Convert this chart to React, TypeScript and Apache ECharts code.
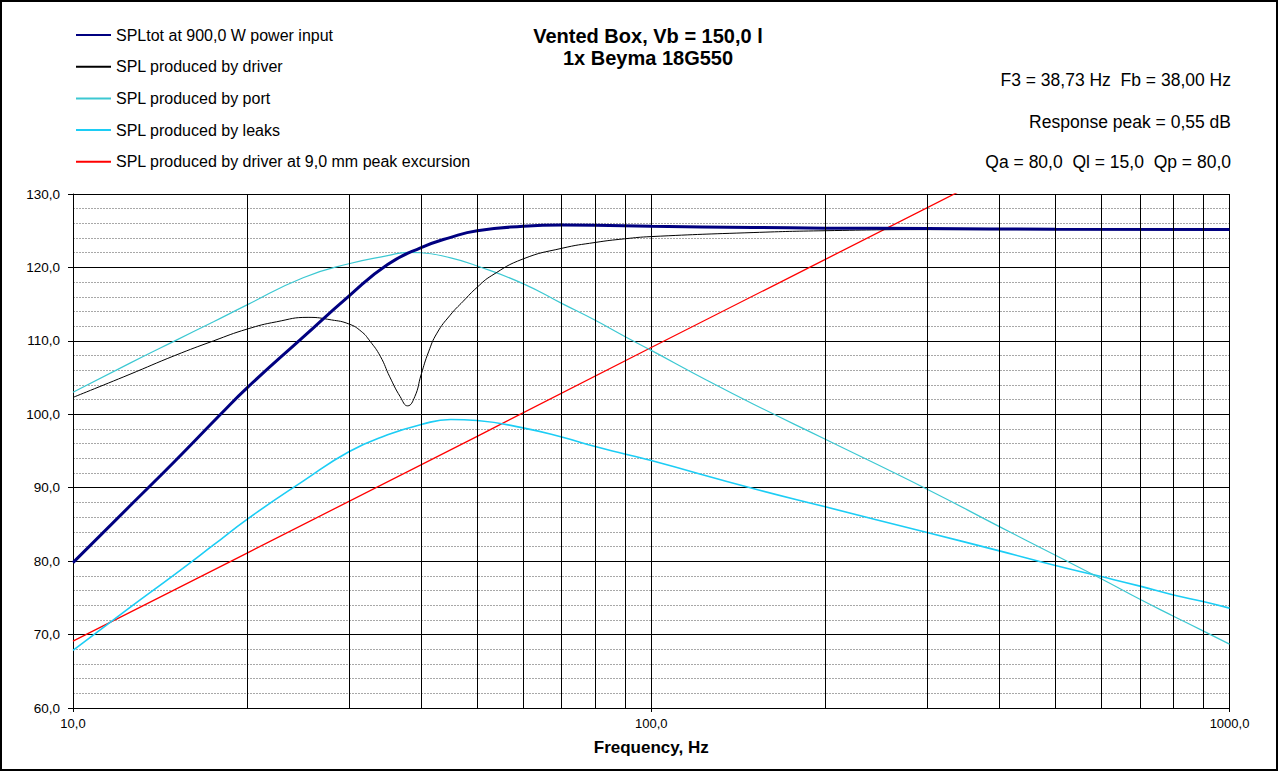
import React, { useEffect, useRef } from "react";
import * as echarts from "echarts";

// ---- data ----
const seriesNames = [
  "SPLtot at 900,0 W power input",
  "SPL produced by driver",
  "SPL produced by port",
  "SPL produced by leaks",
  "SPL produced by driver at 9,0 mm peak excursion",
];

const totFreq = [10, 12.5, 15, 18, 20, 25, 30, 35, 40, 45, 50, 60, 70, 80, 100, 150, 200, 300, 500, 1000];
const totSpl = [79.8, 87.4, 93.6, 100.0, 103.6, 110.5, 116.1, 120.4, 122.7, 124.1, 125.0, 125.6, 125.78, 125.75, 125.6, 125.45, 125.35, 125.3, 125.2, 125.15];

const drvFreq = [10, 12.5, 15, 17.5, 20, 22.5, 25.5, 28, 30, 31.5, 32.6, 34, 35.3, 36.8, 37.9, 39, 40, 41.2, 42.6, 44.9, 47.3, 50, 53, 60, 70, 80, 90, 100, 150, 200, 300, 500, 1000];
const drvSpl = [102.3, 105.4, 108.0, 110.0, 111.6, 112.6, 113.2, 112.85, 112.3, 111.3, 110.0, 107.9, 105.1, 102.4, 101.15, 102.4, 105.4, 108.5, 111.05, 113.5, 115.4, 117.3, 118.9, 121.15, 122.6, 123.4, 123.9, 124.2, 124.75, 125.0, 125.15, 125.15, 125.1];

const portFreq = [10, 12.5, 15, 17.5, 20, 25, 30, 35, 38, 40, 45, 50, 60, 70, 80, 90, 100, 125, 150, 200, 300, 400, 500, 600, 700, 800, 900, 1000];
const portSpl = [103.0, 106.9, 110.0, 112.6, 114.9, 118.6, 120.5, 121.6, 122.05, 122.0, 121.3, 120.2, 117.8, 115.1, 112.8, 110.6, 108.7, 104.6, 101.4, 96.6, 89.8, 84.7, 80.8, 77.6, 74.8, 72.5, 70.5, 68.7];

const leakFreq = [10, 12.5, 15, 17.5, 20, 25, 30, 35, 40, 45, 50, 60, 70, 80, 90, 100, 150, 200, 300, 400, 500, 600, 700, 800, 900, 1000];
const leakSpl = [67.85, 73.6, 78.2, 82.2, 85.7, 90.9, 94.9, 97.2, 98.6, 99.3, 99.15, 98.15, 96.9, 95.6, 94.6, 93.7, 89.9, 87.4, 83.9, 81.4, 79.4, 77.9, 76.6, 75.4, 74.5, 73.6];

const excFreq = [10, 20, 50, 100, 200, 340];
const excSpl = [69.1, 81.1, 97.0, 109.1, 121.1, 130.3];

const minorFreqLines = [20, 30, 40, 50, 60, 70, 80, 90, 200, 300, 400, 500, 600, 700, 800, 900];

const titleLines = ["Vented Box, Vb = 150,0 l", "1x Beyma 18G550"];
const infoLines = [
  "F3 = 38,73 Hz  Fb = 38,00 Hz",
  "Response peak = 0,55 dB",
  "Qa = 80,0  Ql = 15,0  Qp = 80,0",
];
const xAxisName = "Frequency, Hz";

const FONT = 'Arial, "Liberation Sans", sans-serif';

const pairs = (xs: number[], ys: number[]) => xs.map((x, i) => [x, ys[i]]);
const fmt = (v: number) => v.toFixed(1).replace(".", ",");

export default function App() {
  const ref = useRef<HTMLDivElement>(null);

  useEffect(() => {
    document.body.style.margin = "0";
    if (!ref.current) return;
    const chart = echarts.init(ref.current, null, { renderer: "svg" });

    const lineBase = {
      type: "line",
      showSymbol: false,
      symbol: "none",
      smooth: 0.5,
      silent: true,
    };

    const option: any = {
      animation: false,
      backgroundColor: "#ffffff",
      title: {
        text: titleLines.join("\n"),
        left: 643,
        top: 20,
        textAlign: "center",
        textStyle: {
          fontSize: 20,
          fontWeight: "bold",
          lineHeight: 22,
          fontFamily: FONT,
          color: "#000",
        },
      },
      legend: {
        orient: "vertical",
        left: 75,
        top: 27,
        padding: 0,
        itemWidth: 35,
        itemHeight: 14,
        itemGap: 15.7,
        selectedMode: false,
        data: seriesNames,
        itemStyle: { opacity: 0 },
        textStyle: { fontSize: 16, fontFamily: FONT, color: "#000" },
      },
      grid: { left: 73, right: 50.5, top: 194, bottom: 65, containLabel: false },
      xAxis: {
        type: "log",
        logBase: 10,
        min: 10,
        max: 1000,
        name: xAxisName,
        nameLocation: "middle",
        nameGap: 31,
        nameTextStyle: { fontSize: 17, fontWeight: "bold", fontFamily: FONT, color: "#000" },
        axisLine: { show: true, lineStyle: { color: "#000", width: 1 } },
        axisTick: { show: true, length: 4, lineStyle: { color: "#000" } },
        axisLabel: {
          formatter: (v: number) => fmt(v),
          fontSize: 13,
          fontFamily: FONT,
          color: "#000",
          margin: 9,
        },
        splitLine: { show: true, lineStyle: { color: "#000", width: 1 } },
      },
      yAxis: {
        type: "value",
        min: 60,
        max: 130,
        interval: 10,
        axisLine: { show: true, lineStyle: { color: "#000", width: 1 } },
        axisTick: { show: true, length: 5, lineStyle: { color: "#000" } },
        axisLabel: {
          formatter: (v: number) => fmt(v),
          fontSize: 13.5,
          fontFamily: FONT,
          color: "#000",
          margin: 13,
        },
        splitLine: { show: true, lineStyle: { color: "#000", width: 1 } },
        minorTick: { show: false, splitNumber: 5 },
        minorSplitLine: { show: true, lineStyle: { color: "#a8a8a8", width: 1, type: [2, 1] } },
      },
      series: [
        {
          ...lineBase,
          name: seriesNames[4],
          smooth: false,
          data: pairs(excFreq, excSpl),
          lineStyle: { color: "#ff0000", width: 1.3 },
          itemStyle: { color: "#ff0000" },
          z: 2,
          markLine: {
            silent: true,
            symbol: ["none", "none"],
            label: { show: false },
            lineStyle: { color: "#000", width: 1, type: "solid" },
            data: minorFreqLines.map((f) => ({ xAxis: f })),
          },
        },
        {
          ...lineBase,
          name: seriesNames[3],
          data: pairs(leakFreq, leakSpl),
          lineStyle: { color: "#1ccdf5", width: 1.6 },
          itemStyle: { color: "#1ccdf5" },
          z: 3,
        },
        {
          ...lineBase,
          name: seriesNames[2],
          data: pairs(portFreq, portSpl),
          lineStyle: { color: "#3cc8d2", width: 1.2 },
          itemStyle: { color: "#3cc8d2" },
          z: 3,
        },
        {
          ...lineBase,
          name: seriesNames[1],
          data: pairs(drvFreq, drvSpl),
          lineStyle: { color: "#000000", width: 1 },
          itemStyle: { color: "#000000" },
          z: 3,
        },
        {
          ...lineBase,
          name: seriesNames[0],
          data: pairs(totFreq, totSpl),
          lineStyle: { color: "#000080", width: 3 },
          itemStyle: { color: "#000080" },
          z: 4,
        },
      ],
      graphic: [
        {
          type: "rect",
          silent: true,
          shape: { x: 1, y: 1, width: 1276, height: 769 },
          style: { fill: "none", stroke: "#000", lineWidth: 2 },
        },
        ...infoLines.map((t, i) => ({
          type: "text",
          silent: true,
          x: 1231,
          y: [80, 122, 162][i],
          style: {
            text: t,
            fill: "#000",
            fontSize: 17.5,
            fontFamily: FONT,
            align: "right",
            verticalAlign: "middle",
          },
        })),
      ],
    };

    chart.setOption(option);
    return () => chart.dispose();
  }, []);

  return <div ref={ref} style={{ width: 1280, height: 773 }} />;
}
